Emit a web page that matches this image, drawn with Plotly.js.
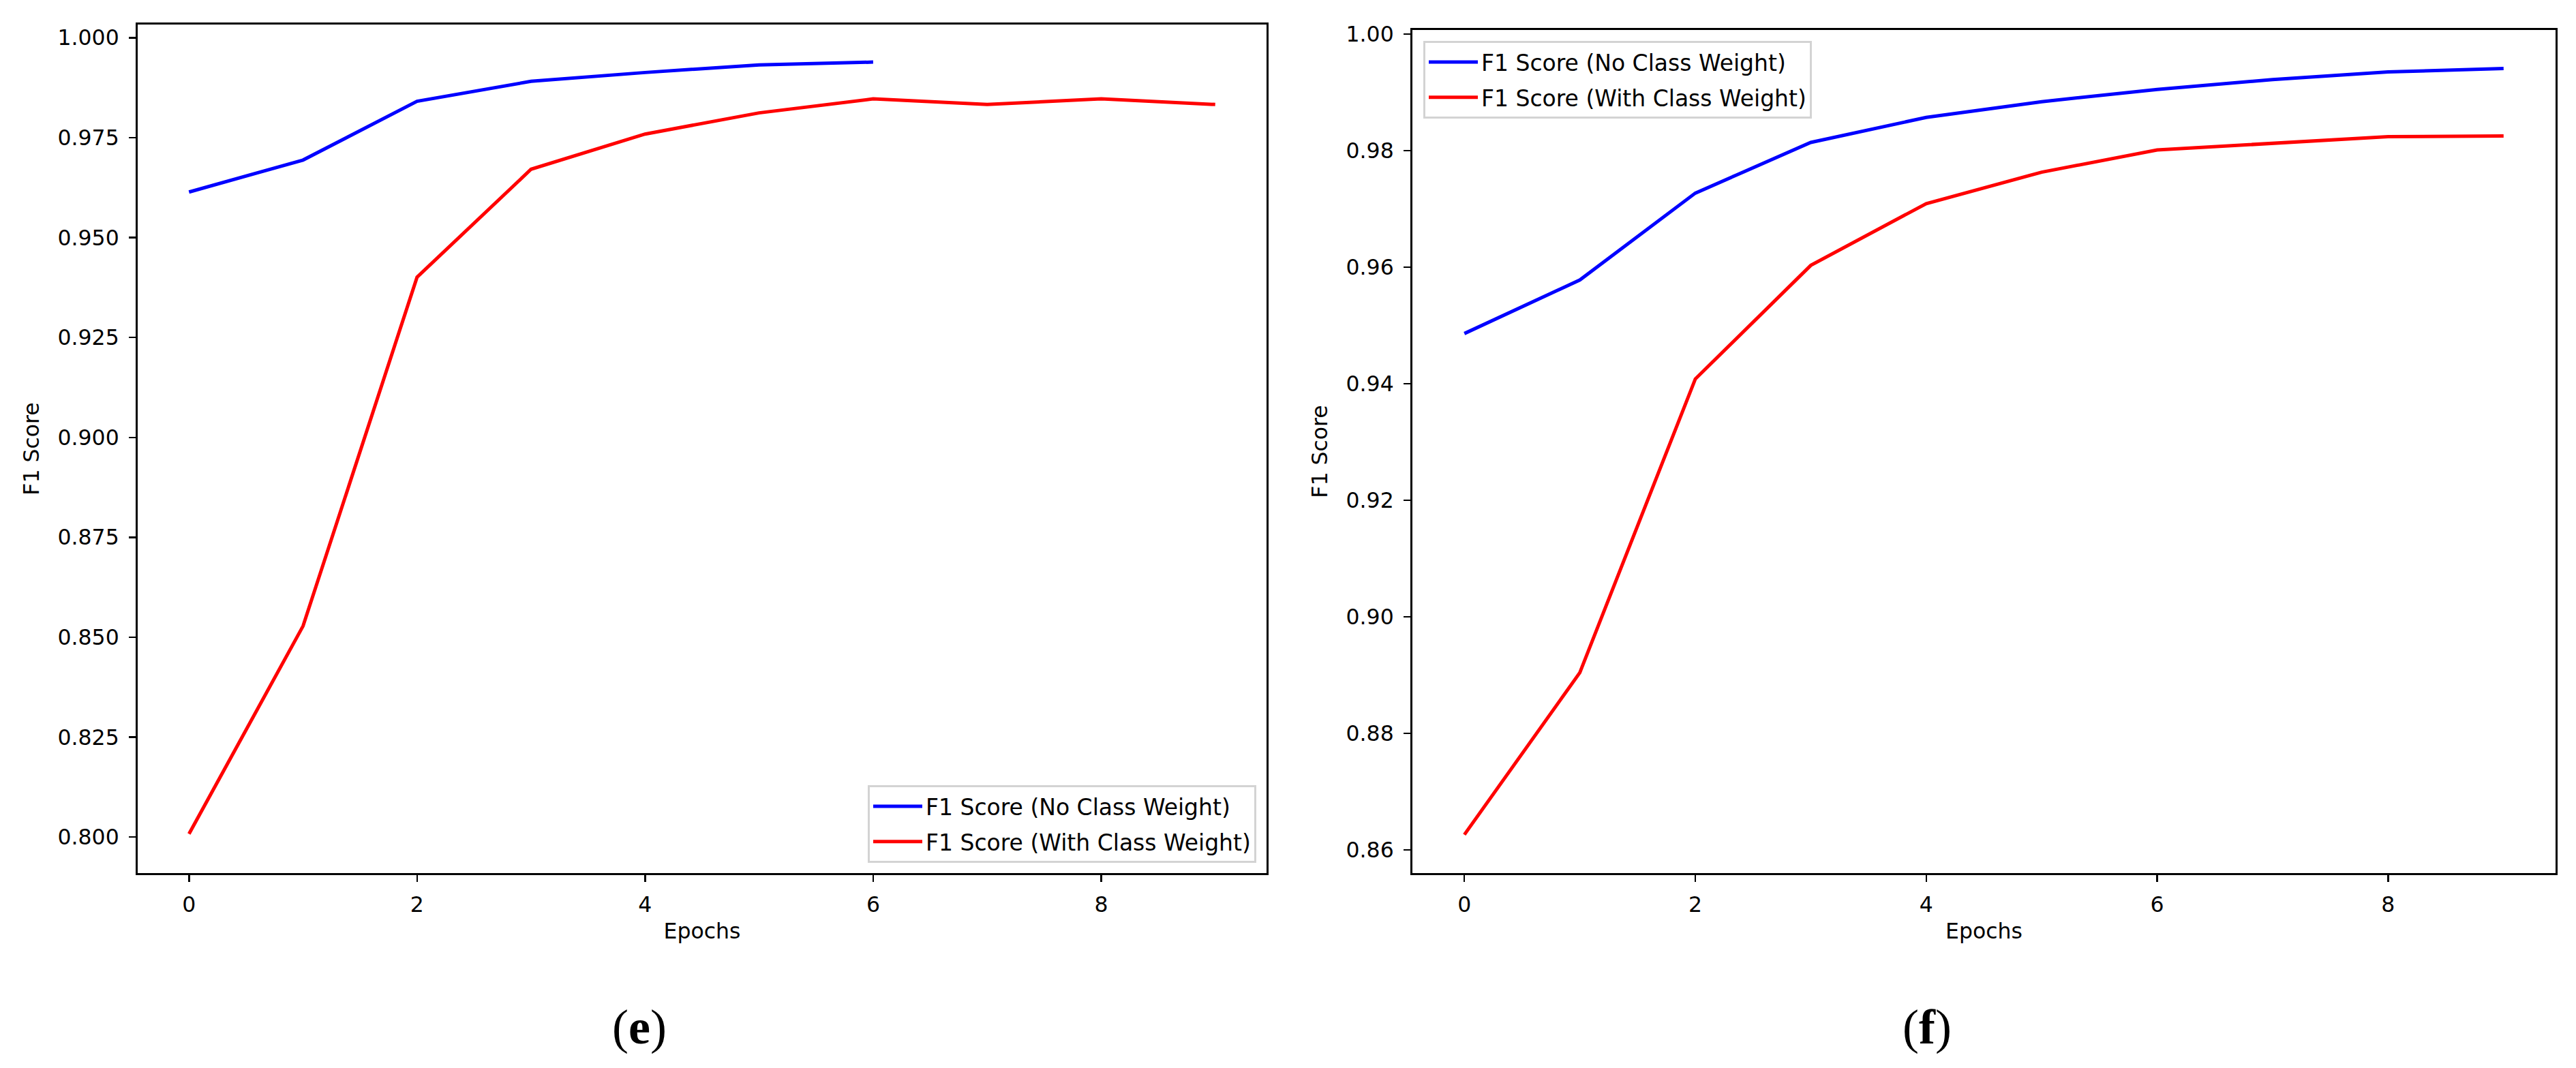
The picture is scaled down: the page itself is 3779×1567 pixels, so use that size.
<!DOCTYPE html>
<html>
<head>
<meta charset="utf-8">
<script src="https://cdn.plot.ly/plotly-3.0.1.min.js"></script>
<style>
  html, body { margin: 0; padding: 0; background: #ffffff; }
  #chart { width: 3779px; height: 1567px; }
</style>
</head>
<body>
<div id="chart"></div>
<script>
// ---- data ----
const epochsE = [0, 1, 2, 3, 4, 5, 6, 7, 8, 9];
const f1NoWeightE = [0.9614, 0.9694, 0.9841, 0.9891, 0.9913, 0.9932, 0.9939];
const f1WithWeightE = [0.8008, 0.8528, 0.9401, 0.9671, 0.9759, 0.9812, 0.9847, 0.9833, 0.9847, 0.9833];

const epochsF = [0, 1, 2, 3, 4, 5, 6, 7, 8, 9];
const f1NoWeightF = [0.9486, 0.9578, 0.9727, 0.9814, 0.9857, 0.9884, 0.9905, 0.9922, 0.9935, 0.9941];
const f1WithWeightF = [0.8626, 0.8904, 0.9408, 0.9603, 0.9709, 0.9763, 0.9801, 0.9813, 0.9824, 0.9825];

const xTicks = [0, 2, 4, 6, 8];
const yTicksE = [0.800, 0.825, 0.850, 0.875, 0.900, 0.925, 0.950, 0.975, 1.000];
const yTicksF = [0.86, 0.88, 0.90, 0.92, 0.94, 0.96, 0.98, 1.00];

const nameNo = 'F1 Score (No Class Weight)';
const nameWith = 'F1 Score (With Class Weight)';
const xTitle = 'Epochs';
const yTitle = 'F1 Score';
const panelLabels = ['(<b>e</b>)', '(<b>f</b>)'];

// ---- figure geometry ----
const W = 3779, H = 1567;
const px = v => v / W;
const py = v => 1 - v / H;

const FONT = 'DejaVu Sans, sans-serif';
const FS = 31.5;
const LFS = 33;
const BLUE = '#0000ff', RED = '#ff0000';
const LW = 5;

const traces = [
  { x: epochsE.slice(0, f1NoWeightE.length), y: f1NoWeightE, name: nameNo, type: 'scatter', mode: 'lines',
    line: { color: BLUE, width: LW }, xaxis: 'x', yaxis: 'y', legend: 'legend', legendgroup: 'e1' },
  { x: epochsE, y: f1WithWeightE, name: nameWith, type: 'scatter', mode: 'lines',
    line: { color: RED, width: LW }, xaxis: 'x', yaxis: 'y', legend: 'legend', legendgroup: 'e2' },
  { x: epochsF, y: f1NoWeightF, name: nameNo, type: 'scatter', mode: 'lines',
    line: { color: BLUE, width: LW }, xaxis: 'x2', yaxis: 'y2', legend: 'legend2', legendgroup: 'f1' },
  { x: epochsF, y: f1WithWeightF, name: nameWith, type: 'scatter', mode: 'lines',
    line: { color: RED, width: LW }, xaxis: 'x2', yaxis: 'y2', legend: 'legend2', legendgroup: 'f2' }
];

function xAxis(domain, anchor) {
  return {
    domain: domain, anchor: anchor, range: [-0.45, 9.45],
    tickmode: 'array', tickvals: xTicks, ticktext: xTicks.map(String),
    showgrid: false, zeroline: false,
    showline: true, linecolor: '#000000', linewidth: 3, mirror: true,
    ticks: 'outside', ticklen: 10, tickwidth: 2.5, tickcolor: '#000000',
    tickfont: { family: FONT, size: FS, color: '#000000' },
    ticklabelstandoff: 6,
    title: { text: xTitle, font: { family: FONT, size: FS, color: '#000000' }, standoff: 12 },
    automargin: false, fixedrange: true
  };
}
function yAxis(domain, anchor, range, ticks, fmt) {
  return {
    domain: domain, anchor: anchor, range: range,
    tickmode: 'array', tickvals: ticks, ticktext: ticks.map(v => v.toFixed(fmt)),
    showgrid: false, zeroline: false,
    showline: true, linecolor: '#000000', linewidth: 3, mirror: true,
    ticks: 'outside', ticklen: 10, tickwidth: 2.5, tickcolor: '#000000',
    tickfont: { family: FONT, size: FS, color: '#000000' },
    ticklabelstandoff: 8,
    title: { text: yTitle, font: { family: FONT, size: FS, color: '#000000' }, standoff: 18 },
    automargin: false, fixedrange: true
  };
}

const legendStyle = {
  bgcolor: 'rgba(255,255,255,0.8)', bordercolor: '#d3d3d3', borderwidth: 3,
  font: { family: FONT, size: LFS, color: '#000000' },
  traceorder: 'grouped', tracegroupgap: 6, itemwidth: 72
};

const layout = {
  width: W, height: H,
  margin: { l: 0, r: 0, t: 0, b: 0, pad: 0 },
  paper_bgcolor: '#ffffff', plot_bgcolor: '#ffffff',
  showlegend: true,
  xaxis: xAxis([px(202), px(1858)], 'y'),
  yaxis: yAxis([py(1281), py(36)], 'x', [0.7910, 1.0033], yTicksE, 3),
  xaxis2: xAxis([px(2072), px(3749)], 'y2'),
  yaxis2: yAxis([py(1281), py(44)], 'x2', [0.8560, 1.0007], yTicksF, 2),
  legend: Object.assign({ x: px(1843), y: py(1266), xanchor: 'right', yanchor: 'bottom' }, legendStyle),
  legend2: Object.assign({ x: px(2088), y: py(60), xanchor: 'left', yanchor: 'top' }, legendStyle),
  annotations: [
    { text: panelLabels[0], xref: 'paper', yref: 'paper', x: px(938), y: py(1507),
      xanchor: 'center', yanchor: 'middle', showarrow: false,
      font: { family: 'Liberation Serif, serif', size: 72, color: '#000000' } },
    { text: panelLabels[1], xref: 'paper', yref: 'paper', x: px(2827), y: py(1507),
      xanchor: 'center', yanchor: 'middle', showarrow: false,
      font: { family: 'Liberation Serif, serif', size: 72, color: '#000000' } }
  ]
};

Plotly.newPlot('chart', traces, layout, { staticPlot: true, displayModeBar: false });
</script>
</body>
</html>
